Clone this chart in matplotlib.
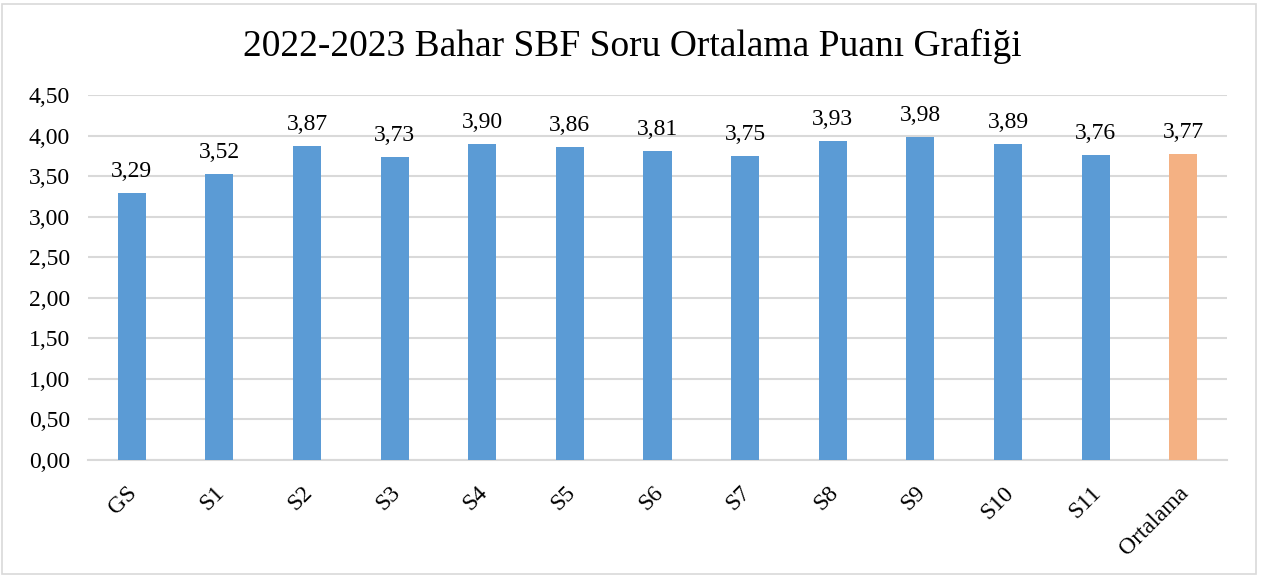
import matplotlib
matplotlib.use("Agg")
import matplotlib.pyplot as plt
from matplotlib.patches import Rectangle

categories = ["GS", "S1", "S2", "S3", "S4", "S5", "S6", "S7", "S8", "S9", "S10", "S11", "Ortalama"]
values = [3.29, 3.52, 3.87, 3.73, 3.90, 3.86, 3.81, 3.75, 3.93, 3.98, 3.89, 3.76, 3.77]
colors = ["#5B9BD5"] * 12 + ["#F4B183"]
title = "2022-2023 Bahar SBF Soru Ortalama Puanı Grafiği"
yticks = [0.0, 0.5, 1.0, 1.5, 2.0, 2.5, 3.0, 3.5, 4.0, 4.5]

plt.rcParams['font.family'] = ['Liberation Serif', 'DejaVu Serif']

W, H = 1264, 578
fig = plt.figure(figsize=(W / 100, H / 100), dpi=100)
ax = fig.add_axes([88 / W, 1 - 460 / H, (1227 - 88) / W, (460 - 95) / H])

x = list(range(len(categories)))
bars = ax.bar(x, values, width=0.32, color=colors, zorder=3)
for xi, v in zip(x, values):
    ax.annotate(f"{v:.2f}".replace(".", ","), (xi, v), xytext=(0, 8), textcoords="offset points",
                ha="center", va="bottom", fontsize=17, color="#000000")

ax.set_xlim(-0.5, len(categories) - 0.5)
ax.set_ylim(0, 4.5)
ax.set_yticks(yticks)
ax.set_yticklabels([f"{t:.2f}".replace(".", ",") for t in yticks], fontsize=17)
# tick label anchors sit slightly left of the bar centres, as in the reference
ax.set_xticks([xi - 0.06 for xi in x])
ax.set_xticklabels(categories, rotation=45, ha="right", rotation_mode="anchor", fontsize=17)
ax.tick_params(axis="both", length=0)
ax.tick_params(axis="y", pad=13)
ax.tick_params(axis="x", pad=16)
ax.grid(axis="y", color="#D9D9D9", linewidth=1.5, zorder=0)
for s in ["top", "right", "left"]:
    ax.spines[s].set_visible(False)
ax.spines["bottom"].set_color("#D9D9D9")
ax.spines["bottom"].set_linewidth(1.5)

fig.text(0.5, 1 - 46 / H, title, ha="center", va="center", fontsize=27)
fig.patches.append(Rectangle((2 / W, 4 / H), (1256 - 2) / W, (574 - 4) / H, transform=fig.transFigure,
                             fill=False, edgecolor="#D9D9D9", linewidth=1.2))

fig.savefig("out.png", dpi=100)
